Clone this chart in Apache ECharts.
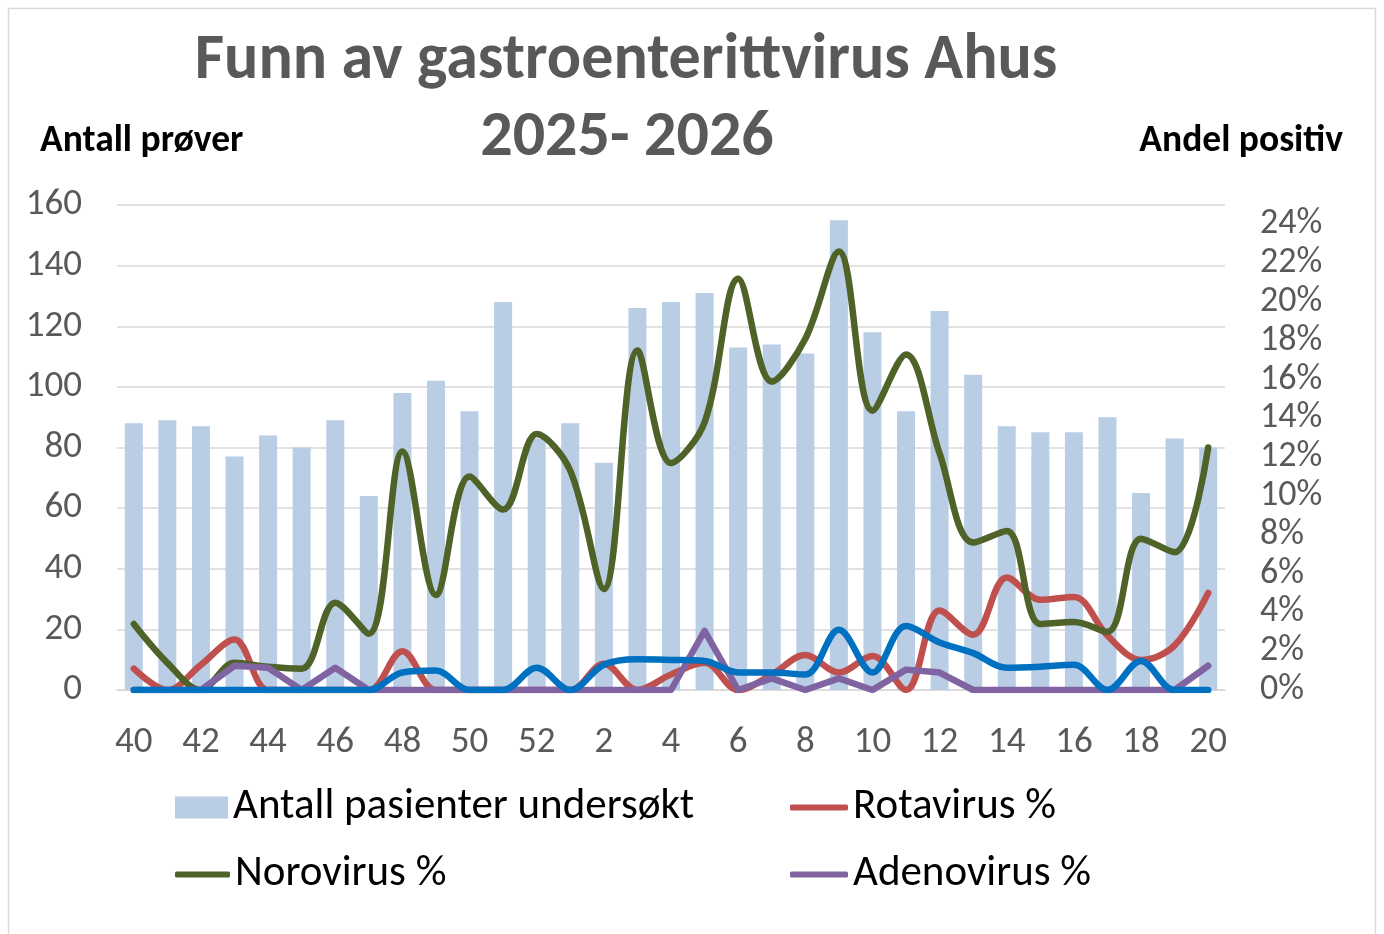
<!DOCTYPE html>
<html>
<head>
<meta charset="utf-8">
<script src="https://cdn.jsdelivr.net/npm/echarts@6/dist/echarts.min.js"></script>
<style>
html,body{margin:0;padding:0;background:#fff;}
#chart{width:1384px;height:934px;}
</style>
</head>
<body>
<div id="chart"></div>
<script>
const weeks = ['40','41','42','43','44','45','46','47','48','49','50','51','52','1','2','3','4','5','6','7','8','9','10','11','12','13','14','15','16','17','18','19','20'];
const antallPasienter = [88,89,87,77,84,80,89,64,98,102,92,128,83,88,75,126,128,131,113,114,111,155,118,92,125,104,87,85,85,90,65,83,80];
const rotavirus = [1.1,0,1.3,2.6,0,0,0,0,2.0,0,0,0,0,0,1.35,0,0.8,1.4,0,0.8,1.8,0.9,1.75,0,4.1,2.85,5.8,4.65,4.8,2.8,1.55,2.3,5.0];
const norovirus = [3.4,1.4,0,1.4,1.2,1.1,4.5,2.9,12.3,4.9,11.0,9.3,13.2,11.3,5.2,17.5,11.7,13.8,21.2,15.9,18.1,22.6,14.4,17.3,12.2,7.6,8.2,3.4,3.5,3.0,7.8,7.1,12.5];
const adenovirus = [0,0,0,1.25,1.15,0,1.15,0,0,0,0,0,0,0,0,0,0,3.05,0,0.6,0,0.6,0,1.05,0.9,0,0,0,0,0,0,0,1.25];
const annetVirus = [0,0,0,0,0,0,0,0,0.9,1.0,0,0,1.15,0,1.3,1.58,1.55,1.5,0.9,0.9,0.8,3.1,0.9,3.3,2.45,1.9,1.15,1.2,1.3,0,1.5,0,0];
const leftTicks = {min:0, max:160, interval:20};
const rightTicks = {min:0, max:25, interval:2};

const FONT = "Carlito, 'Noto Sans', sans-serif";
const chart = echarts.init(document.getElementById('chart'));
const lineSeries = (name, data, color, smooth) => ({
  name, type:'line', yAxisIndex:1, data, smooth: smooth ? 0.35 : false,
  symbol:'none', lineStyle:{color, width:6.5, cap:'round', join:'round'}, itemStyle:{color}, z:3
});
const legendBase = {
  orient:'horizontal', itemGap:10, padding:0,
  textStyle:{fontFamily:FONT, fontSize:43, color:'#000', padding:[0,0,0,0]},
  selectedMode:false
};
chart.setOption({
  animation:false,
  backgroundColor:'#fff',
  graphic:[
    {type:'rect', shape:{x:8.5,y:8.5,width:1367,height:940}, style:{fill:'none', stroke:'#D9D9D9', lineWidth:1.5}, silent:true},
    {type:'text', style:{text:'Funn av gastroenterittvirus Ahus', x:626, y:62, fontFamily:FONT, fontWeight:'bold', fontSize:64, fill:'#595959', align:'center', verticalAlign:'middle'}},
    {type:'text', style:{text:'2025- 2026', x:627, y:139, fontFamily:FONT, fontWeight:'bold', fontSize:64, fill:'#595959', align:'center', verticalAlign:'middle'}},
    {type:'text', style:{text:'Antall prøver', x:40, y:142, fontFamily:FONT, fontWeight:'bold', fontSize:37.5, fill:'#000', verticalAlign:'middle'}},
    {type:'text', style:{text:'Andel positiv', x:1343, y:142, fontFamily:FONT, fontWeight:'bold', fontSize:37.5, fill:'#000', align:'right', verticalAlign:'middle'}}
  ],
  legend:[
    Object.assign({}, legendBase, {left:175, top:786, itemWidth:53, itemHeight:22, data:[{name:'Antall pasienter undersøkt', icon:'rect'}]}),
    Object.assign({}, legendBase, {left:790, top:786, itemWidth:58, itemHeight:6, data:[{name:'Rotavirus %', icon:'roundRect'}]}),
    Object.assign({}, legendBase, {left:175, top:853, itemWidth:55, itemHeight:6, data:[{name:'Norovirus %', icon:'roundRect'}]}),
    Object.assign({}, legendBase, {left:790, top:853, itemWidth:58, itemHeight:6, data:[{name:'Adenovirus %', icon:'roundRect'}]})
  ],
  grid:{left:117, right:159, top:205, bottom:244, containLabel:false},
  xAxis:{
    type:'category', data:weeks, boundaryGap:true,
    axisLine:{show:true, lineStyle:{color:'#D9D9D9', width:1.5}},
    axisTick:{show:false},
    axisLabel:{interval:1, fontFamily:FONT, fontSize:37, color:'#595959', margin:34}
  },
  yAxis:[
    {type:'value', min:leftTicks.min, max:leftTicks.max, interval:leftTicks.interval,
     axisLine:{show:false}, axisTick:{show:false},
     splitLine:{lineStyle:{color:'#D9D9D9', width:1.5}},
     axisLabel:{fontFamily:FONT, fontSize:37, color:'#595959', margin:35}},
    {type:'value', min:rightTicks.min, max:rightTicks.max, interval:rightTicks.interval,
     axisLine:{show:false}, axisTick:{show:false}, splitLine:{show:false},
     axisLabel:{fontFamily:FONT, fontSize:36, color:'#595959', margin:35, showMaxLabel:false, formatter:'{value}%'}}
  ],
  series:[
    {name:'Antall pasienter undersøkt', type:'bar', data:antallPasienter, barWidth:18, itemStyle:{color:'#B9CDE5'}, z:1},
    lineSeries('Rotavirus %', rotavirus, '#C0504D', true),
    lineSeries('Norovirus %', norovirus, '#4F6228', true),
    lineSeries('Adenovirus %', adenovirus, '#8064A2', false),
    lineSeries('Annet virus %', annetVirus, '#0070C0', true)
  ]
});
</script>
</body>
</html>
